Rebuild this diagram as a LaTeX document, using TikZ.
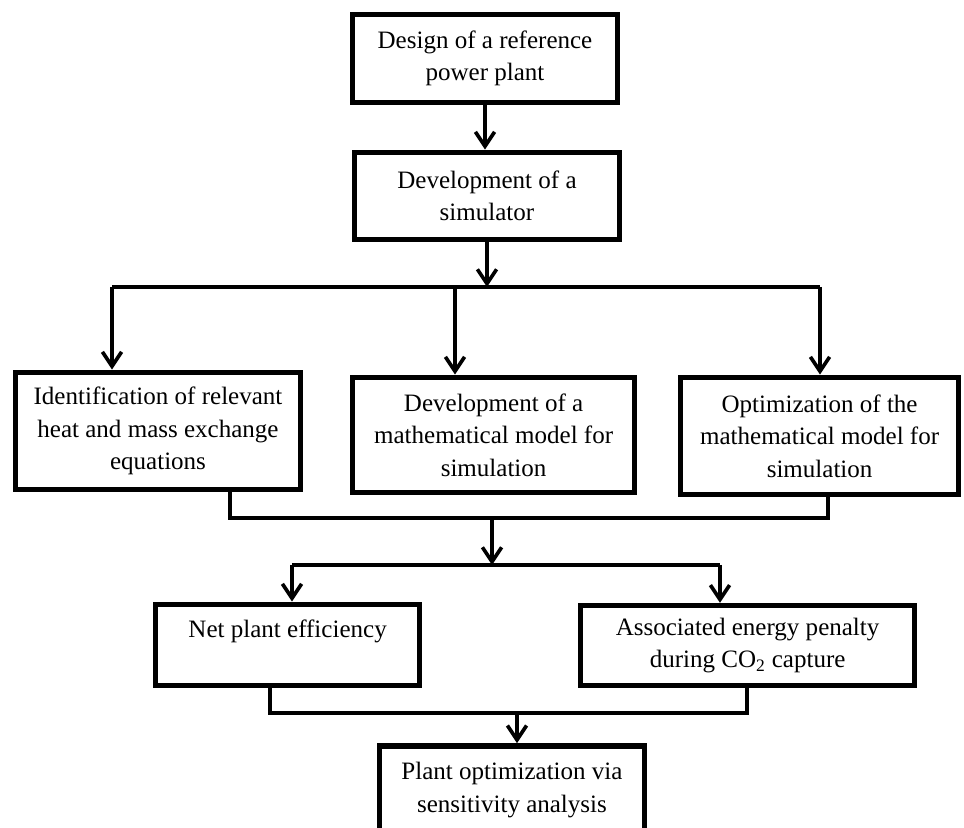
\documentclass[tikz,border=0pt]{standalone}
\usepackage{fontspec}
\setmainfont{Liberation Serif}
\usetikzlibrary{arrows.meta,calc,positioning}
\definecolor{lineBlack}{HTML}{000000}
\tikzset{
  font=\fontsize{17.8pt}{23pt}\selectfont,
  arrow/.style={-{Straight Barb[length=3.6mm,width=4.8mm]}, draw=lineBlack, line width=2.6pt},
  link/.style={draw=lineBlack, line width=2.6pt},
  stepbox/.style={rectangle, draw=lineBlack, line width=4pt, fill=white, align=center, inner xsep=4pt, inner ysep=3pt}
}

\begin{document}
\begin{tikzpicture}[x=1cm,y=1cm]
\clip (0,0) rectangle (24.1,20.7);

% --------------------------------------------------------------------------
% Top: reference plant and simulator
% --------------------------------------------------------------------------
\node[stepbox, minimum width=6.62cm, minimum height=2.2cm] (design) at (12.125,19.24) {Design of a reference\\power plant};
\node[stepbox, minimum width=6.62cm, minimum height=2.18cm] (simulator) at (12.175,15.8) {Development of a\\simulator};

\draw[arrow] (design.south) -- (design.south |- simulator.north);

% --------------------------------------------------------------------------
% Middle: three modelling steps
% --------------------------------------------------------------------------
\node[stepbox, minimum width=7.13cm, minimum height=2.93cm] (identify) at (3.95,9.925) {Identification of relevant\\heat and mass exchange\\equations};
\node[stepbox, minimum width=7.05cm, minimum height=2.88cm] (mathModel) at (12.34,9.825) {Development of a\\mathematical model for\\simulation};
\node[stepbox, minimum width=6.95cm, minimum height=2.93cm] (optimize) at (20.49,9.8) {Optimization of the\\mathematical model for\\simulation};

\coordinate (splitA) at (12.175,13.525);
\coordinate (splitAL) at (2.8,13.525);
\coordinate (splitAM) at (11.375,13.525);
\coordinate (splitAR) at (20.5,13.525);
\draw[arrow] (simulator.south) -- (splitA);
\draw[link] (splitAL) -- (splitAR);
\draw[arrow] (splitAL) -- (splitAL |- identify.north);
\draw[arrow] (splitAM) -- (splitAM |- mathModel.north);
\draw[arrow] (splitAR) -- (splitAR |- optimize.north);

% --------------------------------------------------------------------------
% Results
% --------------------------------------------------------------------------
\node[stepbox, minimum width=6.6cm, minimum height=2.03cm] (efficiency) at (7.19,4.575) {Net plant efficiency\\\mbox{}};
\node[stepbox, minimum width=8.35cm, minimum height=2.0cm] (penalty) at (18.69,4.56) {Associated energy penalty\\during CO\textsubscript{2} capture};
\node[stepbox, minimum width=6.62cm, minimum height=2.2cm] (sensitivity) at (12.8,0.95) {Plant optimization via\\sensitivity analysis};

\coordinate (joinAL) at (5.75,7.75);
\coordinate (joinAR) at (20.7,7.75);
\coordinate (joinAM) at (12.3,7.75);
\draw[link] (joinAL |- identify.south) -- (joinAL) -- (joinAR) -- (joinAR |- optimize.south);

\coordinate (splitB) at (12.3,6.575);
\coordinate (splitBL) at (7.3,6.575);
\coordinate (splitBR) at (18.0,6.575);
\draw[arrow] (joinAM) -- (splitB);
\draw[link] (splitBL) -- (splitBR);
\draw[arrow] (splitBL) -- (splitBL |- efficiency.north);
\draw[arrow] (splitBR) -- (splitBR |- penalty.north);

\coordinate (joinBL) at (6.75,2.875);
\coordinate (joinBR) at (18.675,2.875);
\coordinate (joinBM) at (12.925,2.875);
\draw[link] (joinBL |- efficiency.south) -- (joinBL) -- (joinBR) -- (joinBR |- penalty.south);
\draw[arrow] (joinBM) -- (joinBM |- sensitivity.north);

\end{tikzpicture}
\end{document}
